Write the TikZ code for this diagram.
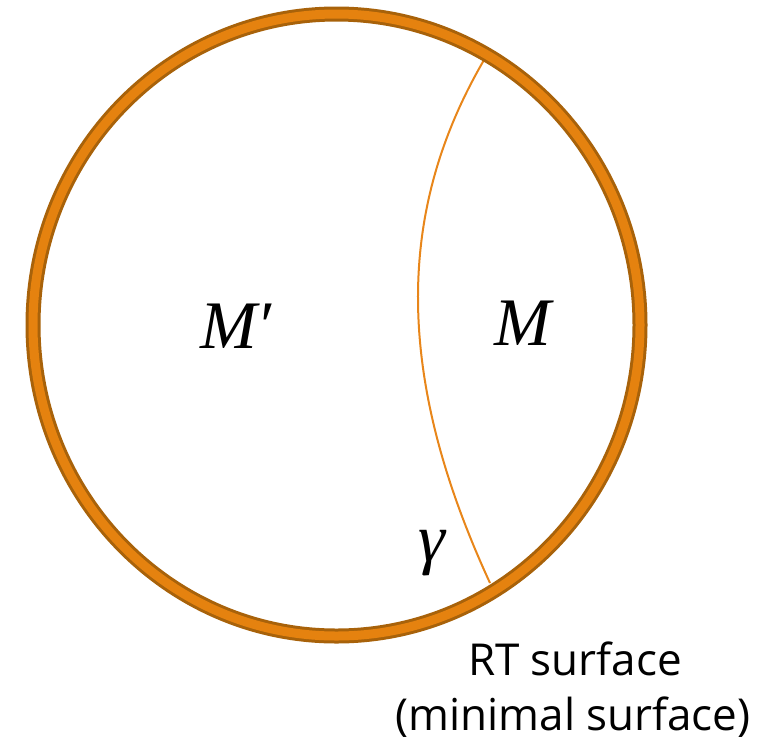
\documentclass[tikz,border=0pt]{standalone}
\usepackage{fontspec}
\newfontfamily\labelfont{Open Sans}
\newfontfamily\regionfont{Liberation Serif}
\usepackage{tikz}
\usetikzlibrary{positioning}

\definecolor{ringfill}{HTML}{E5820F}
\definecolor{ringedge}{HTML}{A8620A}
\definecolor{rtline}{HTML}{E8861A}

\begin{document}
\begin{tikzpicture}[
        x=1pt, y=-1pt,
        region/.style={anchor=base, font=\regionfont\itshape\fontsize{68}{72}\selectfont},
        caption/.style={anchor=base, font=\labelfont\fontsize{44}{50}\selectfont},
        rt/.style={draw=rtline, line width=2pt},
        ringout/.style={draw=ringedge, line width=15pt},
        ringin/.style={draw=ringfill, line width=9pt}
    ]
    \useasboundingbox (0,0) rectangle (779,740);

    % End points of the RT surface
    \coordinate (gtop) at (484,60);
    \coordinate (gbot) at (490,583);

    % RT surface
    \draw[rt] (gtop) .. controls (396,211) and (394,375) .. (gbot);

    % Boundary ring
    \coordinate (c) at (336.5,325);
    \draw[ringout] (c) ellipse [x radius=303.5, y radius=311];
    \draw[ringin] (c) ellipse [x radius=303.5, y radius=311];

    % Region labels
    \node[region] (mp) at (236,348) {M′};
    \node[region] (m) at (523,345) {M};
    \node[region] (gamma) at (432,561) {γ};

    % Caption
    \node[caption] (cap1) at (575,675) {RT surface};
    \node[caption] (cap2) at (573,730) {(minimal surface)};

\end{tikzpicture}
\end{document}
